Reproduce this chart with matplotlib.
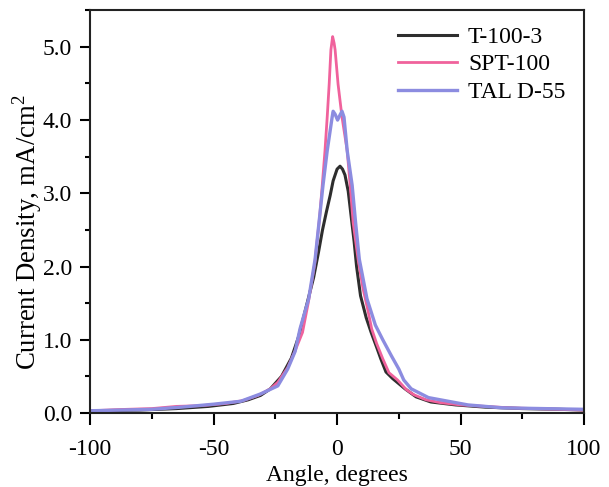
import matplotlib
matplotlib.use("Agg")
from matplotlib import pyplot as plt
from matplotlib.ticker import MultipleLocator, FormatStrFormatter

plt.rcParams['font.family'] = 'serif'
plt.rcParams['font.serif'] = ['Liberation Serif', 'DejaVu Serif']
plt.rcParams['mathtext.fontset'] = 'custom'
plt.rcParams['mathtext.rm'] = 'Liberation Serif'
plt.rcParams['axes.unicode_minus'] = False

# T-100-3 (black)
t100_angle = [-100, -80, -65, -52, -42, -36, -31, -27, -22.5, -18.5, -15.5, -12.5, -9.5,
              -7.5, -5.9, -4.3, -2.8, -1.6, 0, 1.2, 2.2, 3.2, 4.5, 5.3, 6.9, 7.9,
              9.5, 11.8, 13.8, 16, 17.7, 19.8, 22.5, 27.5, 32, 38, 48, 60, 75, 90, 100]
t100_value = [0.03, 0.04, 0.06, 0.09, 0.13, 0.18, 0.24, 0.33, 0.5, 0.75, 1.05, 1.45, 1.85,
              2.2, 2.5, 2.75, 2.97, 3.17, 3.33, 3.37, 3.33, 3.25, 3.03, 2.8, 2.34, 2.0,
              1.6, 1.3, 1.1, 0.9, 0.74, 0.56, 0.47, 0.33, 0.22, 0.15, 0.11, 0.08, 0.06, 0.05, 0.04]

# SPT-100 (pink)
spt_angle = [-100, -85, -75, -65, -55, -45, -38, -32, -27, -24, -20, -17, -14, -11.7,
             -9, -7, -6, -4.9, -4, -3.2, -2.5, -1.8, -1.2, -0.8, 0.4, 2.0, 4.1, 5.3,
             6.5, 8.5, 10.5, 12.5, 14, 16, 18.5, 21, 24.5, 28, 31, 36, 42, 50, 60, 70, 80, 90, 100]
spt_value = [0.03, 0.05, 0.06, 0.09, 0.1, 0.13, 0.17, 0.24, 0.33, 0.42, 0.62, 0.85, 1.1, 1.5,
             2.05, 2.7, 3.11, 3.58, 4.04, 4.49, 4.96, 5.14, 5.05, 4.96, 4.49, 4.04, 3.58, 3.11,
             2.6, 2.1, 1.7, 1.4, 1.15, 0.95, 0.74, 0.55, 0.45, 0.32, 0.25, 0.18, 0.14, 0.11,
             0.09, 0.07, 0.06, 0.05, 0.04]

# TAL D-55 (blue)
tal_angle = [-100, -75, -63, -50, -39, -31, -24, -20, -17, -15, -11.5, -8.9, -5.7, -4.0,
             -2.0, -1.6, -0.8, 0.2, 1.2, 2.0, 2.8, 4.1, 6.1, 7.5, 9, 12.1, 15.5, 18.5, 22,
             25, 27, 30, 37, 53, 67, 83, 100]
tal_value = [0.03, 0.05, 0.08, 0.12, 0.16, 0.26, 0.37, 0.6, 0.84, 1.15, 1.56, 2.1, 3.11, 3.58,
             4.04, 4.12, 4.08, 4.0, 4.07, 4.12, 4.04, 3.58, 3.11, 2.6, 2.1, 1.56, 1.2, 1.0, 0.78,
             0.6, 0.45, 0.33, 0.21, 0.11, 0.07, 0.06, 0.05]

fig = plt.figure(figsize=(6.09, 4.87), dpi=100)
ax = fig.add_axes([0.148, 0.152, 0.811, 0.827])

ax.plot(t100_angle, t100_value, color='#2e2e2e', lw=2.2, label='T-100-3')
ax.plot(spt_angle, spt_value, color='#f0629c', lw=2.0, label='SPT-100')
ax.plot(tal_angle, tal_value, color='#8c8ce0', lw=2.4, label='TAL D-55')

ax.set_xlim(-100, 100)
ax.set_ylim(0, 5.5)
ax.xaxis.set_major_locator(MultipleLocator(50))
ax.xaxis.set_minor_locator(MultipleLocator(25))
ax.yaxis.set_major_locator(MultipleLocator(1.0))
ax.yaxis.set_minor_locator(MultipleLocator(0.5))
ax.yaxis.set_major_formatter(FormatStrFormatter('%.1f'))
ax.tick_params(which='both', direction='out', width=1.5, labelsize=17)
ax.tick_params(axis='x', which='major', length=8.5, pad=10)
ax.tick_params(axis='x', which='minor', length=4.3)
ax.tick_params(axis='y', which='major', length=7, pad=6)
ax.tick_params(axis='y', which='minor', length=3.6)
for s in ax.spines.values():
    s.set_linewidth(1.5)
    s.set_color('#222222')

ax.set_xlabel('Angle, degrees', fontsize=17, labelpad=4)
ax.set_ylabel('Current Density, mA/cm$^2$', fontsize=19.3)
ax.yaxis.set_label_coords(-0.093, 0.449)

ax.legend(loc='upper left', bbox_to_anchor=(0.604, 0.983), frameon=False, fontsize=17,
          handlelength=2.5, handletextpad=0.47, labelspacing=0.25, borderaxespad=0)

fig.savefig('out.png', dpi=100)
